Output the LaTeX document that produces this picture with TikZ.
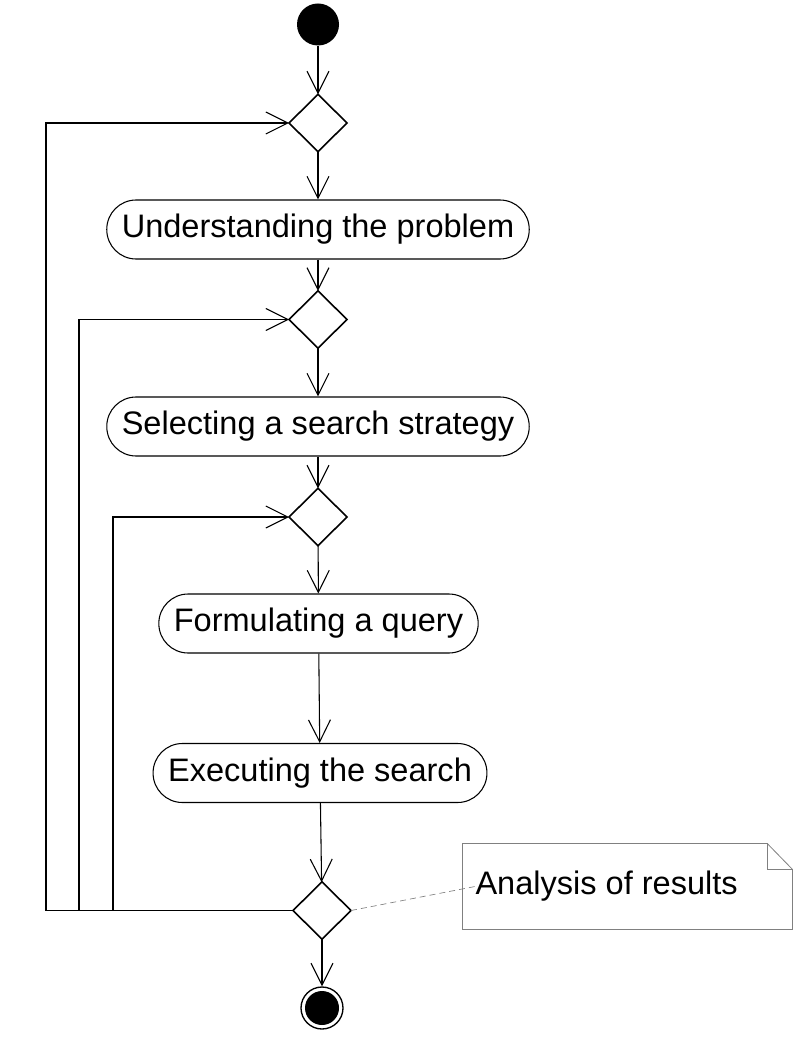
\documentclass[tikz,border=0pt]{standalone}
\usepackage{fontspec}
\setmainfont{Liberation Sans}
\usetikzlibrary{shapes.geometric}
\usetikzlibrary{calc}
\usetikzlibrary{arrows.meta}
\tikzset{
every picture/.style={line width=0.8pt,
                      >={Straight Barb[length=16.5pt,width=16.5pt]},
                      x=0.75pt, y=-0.75pt},
%%%%%%%%%%  Node styles
initial/.style={circle,fill=black,minimum size=31.5pt,inner sep=0},
final/.style={circle,draw,line width=1pt,minimum size=31.5pt,inner sep=0,
              path picture={\fill (path picture bounding box.center)
                            circle (12.75pt);}},
decision/.style={diamond,draw,line width=1.2pt,minimum width=43.5pt,
                 minimum height=43pt,inner sep=0,outer sep=0},
action/.style={rectangle,draw,rounded corners=22pt,minimum height=44.25pt,
               inner xsep=11.25pt,font=\fontsize{24.4}{29}\selectfont},
notebox/.style={minimum width=246.75pt,minimum height=63.75pt,inner sep=0},
notetext/.style={inner sep=0,anchor=west,font=\fontsize{24.4}{29}\selectfont},
%%%% different line styles:
notefold/.style={draw=black!50,line width=0.6pt},
anchorline/.style={draw=black!50,line width=0.5pt,
                   dash pattern=on 4.5pt off 3pt}
}

\begin{document}
\begin{tikzpicture}
\useasboundingbox (0,0) rectangle (793,1037);
\node[initial] (start) at (318,24.5) {};
\node[decision] (dec1) at (318,123) {};
\node[action] (und) at (318,229.5) {Understanding the problem};
\node[decision] (dec2) at (318,319.5) {};
\node[action] (sel) at (318,426.5) {Selecting a search strategy};
\node[decision] (dec3) at (318,517) {};
\node[action] (form) at (318.5,623.5) {Formulating a query};
\node[action] (exec) at (320,773) {Executing the search};
\node[decision] (dec4) at (322,910.5) {};
\node[final] (stop) at (322,1008) {};
\node[notebox] (note) at (627.5,886.5) {};
\node[notetext] (anl) at (475,886.5) {Analysis of results};
\draw[->] (start) -- (dec1);
\draw[->] (dec1) -- (und);
\draw[->] (und) -- (dec2);
\draw[->] (dec2) -- (sel);
\draw[->] (sel) -- (dec3);
\draw[->] (dec3) -- (form);
\draw[->] (form) -- (exec);
\draw[->] (exec) -- (dec4);
\draw[->] (dec4) -- (stop);
%%%% loops back
\draw[->] (dec4.west) -- ++(-247,0) |- (dec1.west);
\draw[->] (dec4.west) -- ++(-214,0) |- (dec2.west);
\draw[->] (dec4.west) -- ++(-180,0) |- (dec3.west);
%%%% note
\draw[notefold] (note.north west) -- ($(note.north east)+(-19pt,0)$)
  -- ($(note.north east)+(0,-19.5pt)$) -- (note.south east)
  -- (note.south west) -- cycle;
\draw[notefold] ($(note.north east)+(-19pt,0)$) |- ($(note.north east)+(0,-19.5pt)$);
\draw[anchorline] (dec4.east) -- (anl.west);
\end{tikzpicture}
\end{document}
